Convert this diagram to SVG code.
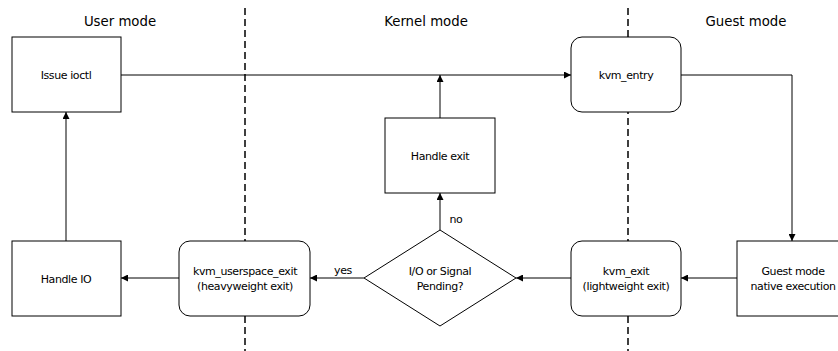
<svg xmlns="http://www.w3.org/2000/svg" width="838" height="351" viewBox="0 0 838 351">
<defs>
<style>
text{font-family:"DejaVu Sans",Verdana,sans-serif;fill:#000;text-anchor:middle}
.h{font-size:13.3px}
.n{font-size:11px;letter-spacing:-0.4px}
.box{fill:#fff;stroke:#000;stroke-width:1}
.c{fill:none;stroke:#000;stroke-width:1}
.d{fill:none;stroke:#000;stroke-width:1.5;stroke-dasharray:7 4}
</style>
<marker id="a" viewBox="0 0 10 10" refX="10" refY="5" markerWidth="8" markerHeight="7" markerUnits="userSpaceOnUse" orient="auto">
<path d="M0,0L10,5L0,10z" fill="#000"/>
</marker>
</defs>
<g id="lanes">
<line class="d" x1="245" y1="8" x2="245" y2="351"/>
<line class="d" x1="628" y1="8" x2="628" y2="351"/>
<text class="h" x="120" y="26">User mode</text>
<text class="h" x="426" y="26">Kernel mode</text>
<text class="h" x="746" y="26">Guest mode</text>
</g>
<g id="connectors">
<line class="c" x1="121" y1="75" x2="571" y2="75" marker-end="url(#a)"/>
<polyline class="c" points="681,75 792,75 792,241" marker-end="url(#a)"/>
<line class="c" x1="737" y1="278" x2="681" y2="278" marker-end="url(#a)"/>
<line class="c" x1="571" y1="278" x2="516" y2="278" marker-end="url(#a)"/>
<line class="c" x1="440" y1="230" x2="440" y2="193" marker-end="url(#a)"/>
<line class="c" x1="440" y1="118" x2="440" y2="75" marker-end="url(#a)"/>
<line class="c" x1="364" y1="278" x2="310" y2="278" marker-end="url(#a)"/>
<line class="c" x1="179" y1="278" x2="121" y2="278" marker-end="url(#a)"/>
<line class="c" x1="66" y1="241" x2="66" y2="112" marker-end="url(#a)"/>
<text class="n" x="456" y="223">no</text>
<text class="n" x="343" y="274">yes</text>
</g>
<g id="issue-ioctl">
<rect class="box" x="12" y="37" width="109" height="75"/>
<text class="n" x="66" y="79">Issue ioctl</text>
</g>
<g id="kvm-entry">
<rect class="box" x="571" y="37" width="110" height="75" rx="11"/>
<text class="n" x="626" y="79">kvm_entry</text>
</g>
<g id="handle-exit">
<rect class="box" x="385" y="118" width="110" height="75"/>
<text class="n" x="440" y="160">Handle exit</text>
</g>
<g id="decision">
<polygon class="box" points="440,230 516,278 440,326 364,278"/>
<text class="n" x="440" y="275">I/O or Signal</text>
<text class="n" x="440" y="290">Pending?</text>
</g>
<g id="guest-exec">
<rect class="box" x="737" y="241" width="110" height="75"/>
<text class="n" x="793" y="275">Guest mode</text>
<text class="n" x="793" y="290">native execution</text>
</g>
<g id="kvm-exit">
<rect class="box" x="571" y="241" width="110" height="75" rx="11"/>
<text class="n" x="626" y="275">kvm_exit</text>
<text class="n" x="626" y="290">(lightweight exit)</text>
</g>
<g id="kvm-userspace-exit">
<rect class="box" x="179" y="241" width="131" height="75" rx="11"/>
<text class="n" x="245" y="275">kvm_userspace_exit</text>
<text class="n" x="245" y="290">(heavyweight exit)</text>
</g>
<g id="handle-io">
<rect class="box" x="12" y="241" width="109" height="75"/>
<text class="n" x="66" y="283">Handle IO</text>
</g>
</svg>
